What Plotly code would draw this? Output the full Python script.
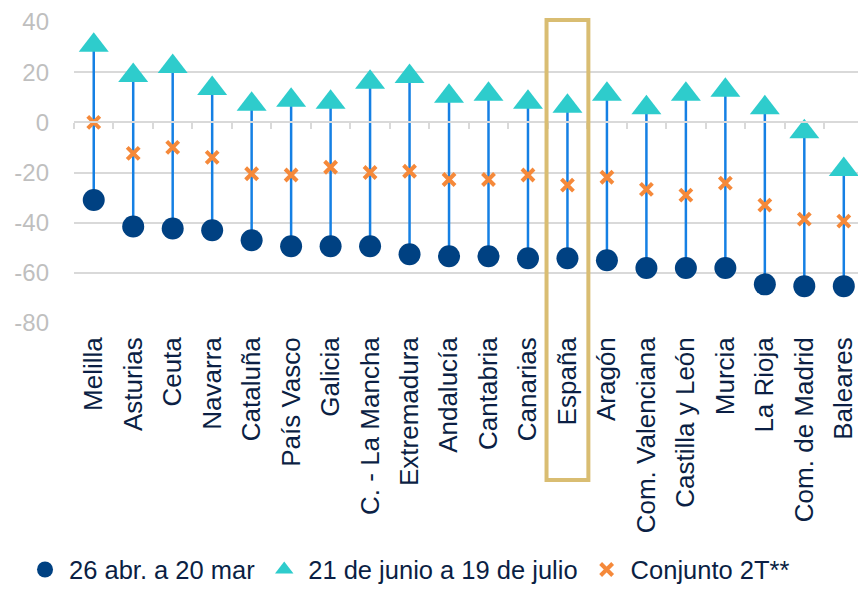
import plotly.graph_objects as go

regions = ["Melilla", "Asturias", "Ceuta", "Navarra", "Cataluña", "País Vasco", "Galicia",
           "C. - La Mancha", "Extremadura", "Andalucía", "Cantabria", "Canarias", "España",
           "Aragón", "Com. Valenciana", "Castilla y León", "Murcia", "La Rioja",
           "Com. de Madrid", "Baleares"]
abr_mar = [-31, -41.5, -42.3, -43, -47, -49.4, -49.4, -49.4, -52.6, -53.4, -53.4, -54.2,
           -54.2, -55, -58.1, -58.1, -58.1, -64.6, -65.3, -65.3]
jun_jul = [30.7, 18.7, 22.3, 13.5, 7.2, 8.8, 8, 16, 18.3, 10.4, 11.2, 8, 6.4, 11.2, 5.8,
           11.2, 12.8, 5.8, -3.8, -18.8]
conjunto_2t = [0, -12.4, -10, -14, -20.5, -21, -17.9, -20, -19.5, -22.8, -22.8, -21, -25,
               -21.9, -26.7, -29, -24.2, -33, -38.6, -39.4]
series_names = ["26 abr. a 20 mar", "21 de junio a 19 de julio", "Conjunto 2T**"]
y_ticks = [-80, -60, -40, -20, 0, 20, 40]
highlight = "España"

FONT = "Liberation Sans, Arial, sans-serif"
NAVY = "#0b1f44"
GRID = "#d9d9d9"
xr = [-0.5, 19.36]

# vertical stems from the first to the second period
xs, ys = [], []
for r, a, b in zip(regions, abr_mar, jun_jul):
    xs += [r, r, None]
    ys += [a, b, None]

fig = go.Figure()
fig.add_scatter(x=xs, y=ys, mode="lines", line=dict(color="#1580e4", width=2.5),
                showlegend=False, hoverinfo="skip")
fig.add_scatter(x=regions, y=abr_mar, mode="markers", name=series_names[0],
                marker=dict(symbol="circle", size=22, color="#004182"))
fig.add_scatter(x=regions, y=jun_jul, mode="markers", name=series_names[1],
                marker=dict(symbol="triangle-up", size=26, color="#2ecccc"))
fig.add_scatter(x=regions, y=conjunto_2t, mode="markers", name=series_names[2],
                marker=dict(symbol="x-thin", size=12, color="#f5893a",
                            line=dict(width=4, color="#f5893a")))
# invisible trace so the boundary ticks on the zero line have categories
fig.add_scatter(x=regions, y=[None] * len(regions), xaxis="x2", showlegend=False,
                hoverinfo="skip", mode="markers")

i = regions.index(highlight)
span = xr[1] - xr[0]
fig.add_shape(type="rect", xref="paper", yref="paper",
              x0=(i - 0.53 - xr[0]) / span, x1=(i + 0.53 - xr[0]) / span,
              y0=-0.522, y1=1.007, line=dict(color="#d9bd72", width=4), layer="above")

fig.update_layout(
    width=858, height=590,
    margin=dict(l=74, r=0, t=22, b=267),
    paper_bgcolor="white", plot_bgcolor="white",
    font=dict(family=FONT, color=NAVY),
    xaxis=dict(type="category", categoryorder="array", categoryarray=regions, range=xr,
               showgrid=False, showline=False, ticks="", tickangle=-90,
               tickfont=dict(size=26, color=NAVY), ticklabelstandoff=8),
    xaxis2=dict(type="category", categoryorder="array", categoryarray=regions, range=xr,
                overlaying="x", anchor="free", position=80 / 120, side="bottom",
                showgrid=False, showline=True, linecolor=GRID, linewidth=1.5,
                ticks="outside", tickson="boundaries", ticklen=6, tickcolor=GRID,
                tickwidth=1.5, showticklabels=False),
    yaxis=dict(range=[-80, 40], tickmode="array", tickvals=y_ticks,
               ticktext=[str(v) for v in y_ticks], showgrid=True, gridcolor=GRID,
               gridwidth=1.5, zeroline=False, tickfont=dict(size=24, color="#bfbfbf"),
               ticklabelstandoff=24),
    legend=dict(orientation="h", xref="container", yref="container", x=0.0245, y=0.034,
                xanchor="left", yanchor="middle", font=dict(size=25.5, color=NAVY),
                itemwidth=38, bgcolor="rgba(0,0,0,0)"),
)

# drop the default body margin so the figure fills the window exactly
fig.write_html("out.html", config={"displayModeBar": False},
               post_script="document.body.style.margin='0';")
